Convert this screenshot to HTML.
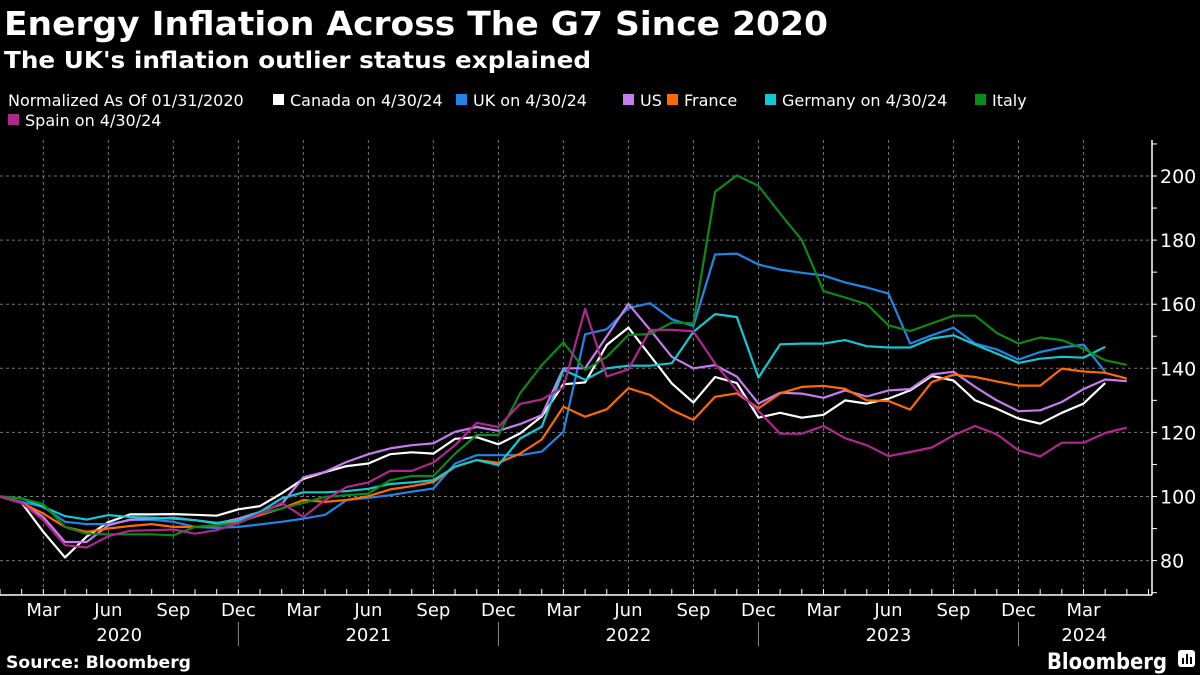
<!DOCTYPE html>
<html><head><meta charset="utf-8"><style>
html,body{margin:0;padding:0;background:#000;width:1200px;height:675px;overflow:hidden}
svg{display:block;font-family:"DejaVu Sans","Liberation Sans",sans-serif}
</style></head><body>
<svg id="chart" width="1200" height="675" viewBox="0 0 1200 675" xmlns="http://www.w3.org/2000/svg">
<rect width="1200" height="675" fill="#000"/>
<text x="4" y="35" fill="#fff" font-size="33" font-weight="bold" textLength="824" lengthAdjust="spacingAndGlyphs">Energy Inflation Across The G7 Since 2020</text>
<text x="4" y="68" fill="#fff" font-size="23" font-weight="bold" textLength="587" lengthAdjust="spacingAndGlyphs">The UK's inflation outlier status explained</text>
<g id="legend" font-size="16" fill="#fff"></g>
<g id="grid"></g>
<g id="series"></g>
<g id="axes"></g>
<text x="6" y="668" fill="#fff" font-size="17" font-weight="bold" textLength="185" lengthAdjust="spacingAndGlyphs">Source: Bloomberg</text>
<text x="1047" y="669" fill="#fff" font-size="22" font-weight="bold" textLength="120" lengthAdjust="spacingAndGlyphs">Bloomberg</text>
<g><rect x="1178" y="650" width="17" height="17" rx="3" fill="#fff"/><rect x="1182" y="658" width="2" height="6" fill="#000"/><rect x="1186" y="654" width="2" height="10" fill="#000"/><rect x="1190" y="657" width="2" height="7" fill="#000"/></g>
</svg>
<script>
const NS="http://www.w3.org/2000/svg";
const yTicks=[80,100,120,140,160,180,200];
const monthLabels=["Mar","Jun","Sep","Dec"];
const yearLabels=["2020","2021","2022","2023","2024"];
const seriesNames=["Canada","UK","US","France","Germany","Italy","Spain"];
const legendLabels=["Normalized As Of 01/31/2020","Canada on 4/30/24","UK on 4/30/24","US","France","Germany on 4/30/24","Italy","Spain on 4/30/24"];
const canada=[100,98,89,81,87.5,92,94.4,94.4,94.5,94.3,94,96,97,101,105.5,107.6,109.5,110.3,113.2,113.8,113.4,118,118.5,116.3,119.7,125,135,135.6,147.3,152.7,144,135.3,129.3,137.3,135.4,124.6,126.1,124.6,125.5,130,129,130.5,133.1,137.6,136.2,130,127.4,124.3,122.7,126.1,129,135.4];
const uk=[100,98.3,96.8,92.1,91.4,91.4,92.6,92.8,92.1,90.5,90.2,90.5,91.3,92.1,93.1,94.3,98.9,99.6,100.4,101.5,102.5,110.3,112.9,112.9,112.9,114,120.2,150.6,152.2,158.8,160.3,155.3,153.2,175.5,175.8,172.4,170.8,169.8,169,166.8,165.2,163.3,147.7,150.3,152.7,147.7,145.9,142.7,145.1,146.5,147.4,138.9];
const us=[100,98,93.6,85.8,85.8,91,92.8,93.1,93.4,92.6,91.6,93.1,95.2,97.6,106,107.7,110.8,113.2,115,116,116.6,120.2,121.7,120.5,122.6,125.4,140,140,150,160.1,152,143.6,140,141,137.4,129,132.4,132.1,130.8,133.1,131.2,133.1,133.5,138.1,138.9,134.2,130,126.6,126.9,129.5,133.5,136.5,136];
const france=[100,98,94.7,90.5,89,90,90.8,91.4,90.5,90.5,91,92,94.2,96.3,98.9,98.3,98.9,100.1,102.2,103.2,104.5,109.3,111.4,110.5,113.4,117.8,128,124.9,127.2,133.8,131.7,127,123.9,131.1,132.2,127.5,132.2,134.2,134.5,133.6,130,129.8,127.1,135.7,138,137.3,135.9,134.6,134.6,139.9,139,138.6,136.8];
const germany=[100,99.4,96.8,93.9,92.8,94.2,93.6,93.4,93.1,92.6,91.8,92.6,95.2,99.4,101.3,101.3,101.7,102.4,103.9,104.4,105.1,109.3,111.4,109.8,118.1,121.8,139.5,136.4,140,140.8,140.8,141.6,151.4,156.9,156,137.1,147.5,147.7,147.7,148.8,146.9,146.5,146.5,149.3,150.3,147.4,144.6,141.7,143,143.6,143.3,146.7];
const italy=[100,99.4,97.6,90.5,88.4,88.2,88.2,88.2,87.9,90.5,91,91.6,94.7,96.3,98,99.9,100.4,100.9,105.1,106.4,106.4,113.4,119.2,119.2,132.2,141,148.1,139.5,143.6,150.4,150.7,154.3,154,195.1,200.2,196.9,188.3,180,164.1,162.1,160,153.4,151.6,154,156.4,156.4,151,147.7,149.6,148.8,146.1,142.5,141.1];
const spain=[100,98,92.6,84.8,84.1,87.6,89.3,89.5,89.7,88.4,89.5,91.8,94.7,98,93.6,98.9,103,104.4,108,108,110.6,116,123,121.7,128.9,130.3,134.1,158.5,137.4,139.7,152,152,151.5,141.5,133.1,126.7,119.6,119.6,122,118.2,116,112.6,113.9,115.3,119.1,122,119.4,114.4,112.5,116.8,116.8,119.8,121.5];
const allSeries=[canada,uk,us,france,germany,italy,spain];
const colors=["#ffffff","#1f86e6","#c77cf0","#ff6a00","#14c8d2","#0a8a16","#b0278e"];
const seriesKeys=["canada-line","uk-line","us-line","france-line","germany-line","italy-line","spain-line"];

const X0=0, XS=21.67, Y200=176, YPER=3.205;
function xScale(m){return X0+m*XS;}
function yScale(v){return Y200+(200-v)*YPER;}
const svg=document.getElementById('chart');
function mk(tag,attrs,parent){const e=document.createElementNS(NS,tag);for(const k in attrs)e.setAttribute(k,attrs[k]);parent.appendChild(e);return e;}

const grid=document.getElementById('grid');
yTicks.forEach(v=>{
  const l=mk('line',{x1:0,x2:1150,y1:yScale(v),y2:yScale(v),stroke:'#777','stroke-width':1,'stroke-dasharray':'3,3'},grid);
  
  
});
for(let m=2;m<=52;m+=3){
  const l=mk('line',{x1:xScale(m),x2:xScale(m),y1:140,y2:595,stroke:'#777','stroke-width':1,'stroke-dasharray':'3,3'},grid);
  
  
}
const sg=document.getElementById('series');
allSeries.forEach((s,i)=>{
  const d=s.map((v,m)=>(m?'L':'M')+xScale(m).toFixed(1)+','+yScale(v).toFixed(1)).join(' ');
  const p=mk('path',{d:d,fill:'none',stroke:colors[i],'stroke-width':2.2,'stroke-linejoin':'round'},sg);
  
  
});
const ax=document.getElementById('axes');
let a=mk('line',{x1:0,x2:1152,y1:595,y2:595,stroke:'#fff','stroke-width':1.5},ax);


a=mk('line',{x1:1152,x2:1152,y1:140,y2:595,stroke:'#fff','stroke-width':1.5},ax);


for(let v=70;v<=210;v+=10){
  const t=mk('line',{x1:1152,x2:1157,y1:yScale(v),y2:yScale(v),stroke:'#fff','stroke-width':1},ax);
  
  
}
yTicks.forEach(v=>{
  const t=mk('text',{x:1160,y:yScale(v)+7,fill:'#fff','font-size':19},ax);
  t.textContent=v;
  
  
});
for(let m=0;m<=53;m++){
  const t=mk('line',{x1:xScale(m),x2:xScale(m),y1:589,y2:595,stroke:'#fff','stroke-width':1},ax);
  
  
}
for(let m=2,k=0;m<=52;m+=3,k++){
  const t=mk('text',{x:xScale(m),y:616,fill:'#fff','font-size':18,'text-anchor':'middle'},ax);
  t.textContent=monthLabels[k%4];
  
  
}
yearLabels.forEach((y,i)=>{
  const start=i===0?0:xScale(11+12*(i-1));
  const end=i===yearLabels.length-1?1150:xScale(11+12*i);
  const t=mk('text',{x:(start+end)/2,y:641,fill:'#fff','font-size':18,'text-anchor':'middle'},ax);
  t.textContent=y;
  
  
  if(i<yearLabels.length-1){
    const s=mk('line',{x1:end,x2:end,y1:622,y2:646,stroke:'#888','stroke-width':1},ax);
    
    
  }
});
const lg=document.getElementById('legend');
const legendX=[8,273,456,623,667,765,975,8];
const legendY=[106,106,106,106,106,106,106,126];
const legendColor=[null,colors[0],colors[1],colors[2],colors[3],colors[4],colors[5],colors[6]];
legendLabels.forEach((lab,i)=>{
  let x=legendX[i];
  if(legendColor[i]){
    const r=mk('rect',{x:x,y:legendY[i]-12,width:11,height:11,fill:legendColor[i]},lg);
    
    
    x+=17;
  }
  const t=mk('text',{x:x,y:legendY[i],fill:'#fff','font-size':16},lg);
  t.textContent=lab;
  
  
});
</script>
</body></html>
